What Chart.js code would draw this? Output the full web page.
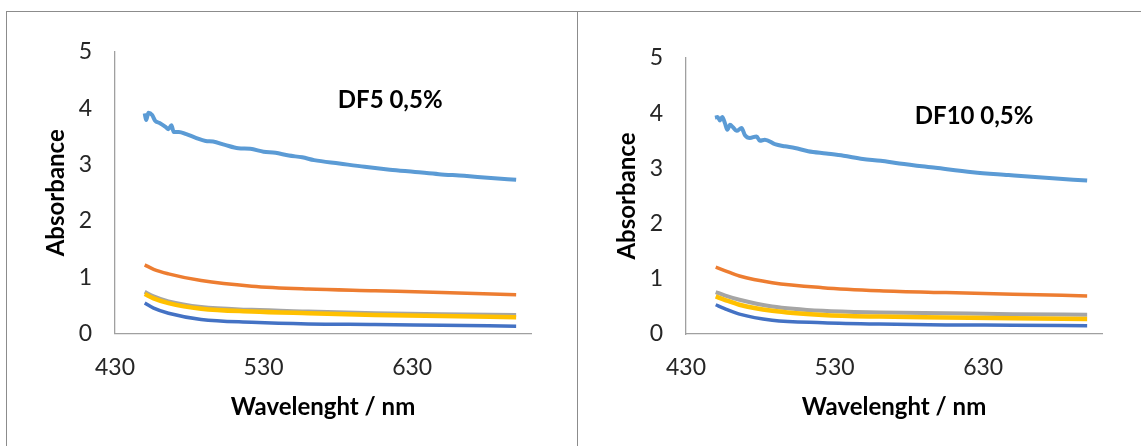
<!DOCTYPE html>
<html>
<head>
<meta charset="utf-8">
<script src="https://cdn.jsdelivr.net/npm/chart.js@4.4.1/dist/chart.umd.min.js"></script>
<style>
  html, body { margin: 0; padding: 0; background: #fff; width: 1141px; height: 446px; overflow: hidden; }
  .box { position: absolute; top: 11px; height: 440px; border-top: 1px solid #8c8c8c; border-left: 1px solid #8c8c8c; box-sizing: border-box; }
  #boxL { left: 6px; width: 571px; }
  #boxR { left: 577px; width: 600px; }
  canvas { position: absolute; top: 0; }
</style>
</head>
<body>
<div class="box" id="boxL"></div>
<div class="box" id="boxR"></div>
<canvas id="dfL" width="577" height="446" style="left:0"></canvas>
<canvas id="dfR" width="564" height="446" style="left:577px"></canvas>
<script>
/* wavelength grid (nm) for the smooth curves */
const wavelength = [450, 456, 466, 488, 522, 560, 605, 650, 700];

/* DF5 0,5% */
const df5Orange = [1.22, 1.14, 1.06, 0.94, 0.84, 0.79, 0.76, 0.73, 0.69];
const df5Gray   = [0.74, 0.66, 0.57, 0.47, 0.42, 0.39, 0.36, 0.34, 0.33];
const df5Yellow = [0.70, 0.625, 0.54, 0.44, 0.39, 0.36, 0.33, 0.31, 0.29];
const df5Blue   = [0.54, 0.45, 0.36, 0.25, 0.20, 0.17, 0.16, 0.145, 0.13];
const df5WlNoisy = [450, 451, 452.5, 455, 457, 460, 464, 466, 468, 469.5, 473, 478, 484, 491, 496, 504, 513, 521, 530, 538, 547, 556, 564, 581, 598, 615, 632, 648, 665, 683, 700];
const df5Noisy   = [3.91, 3.79, 3.92, 3.88, 3.78, 3.74, 3.67, 3.63, 3.70, 3.58, 3.58, 3.54, 3.48, 3.42, 3.41, 3.35, 3.29, 3.28, 3.23, 3.21, 3.16, 3.13, 3.08, 3.02, 2.96, 2.91, 2.87, 2.83, 2.80, 2.76, 2.73];

/* DF10 0,5% */
const df10Orange = [1.21, 1.15, 1.05, 0.93, 0.84, 0.785, 0.75, 0.72, 0.69];
const df10Gray   = [0.76, 0.70, 0.62, 0.50, 0.42, 0.39, 0.375, 0.36, 0.35];
const df10Yellow = [0.68, 0.62, 0.53, 0.42, 0.345, 0.315, 0.30, 0.285, 0.27];
const df10Blue   = [0.53, 0.46, 0.36, 0.25, 0.205, 0.18, 0.165, 0.16, 0.15];
const df10WlNoisy = [449.5, 451.3, 452.8, 454.4, 456.2, 457.8, 459.6, 461.8, 464.1, 467.4, 469.7, 473, 477.5, 479.7, 483.1, 489.8, 496.5, 503.3, 512.2, 524.4, 536, 549, 561, 573.6, 598, 622.9, 647, 672, 700];
const df10Noisy   = [3.92, 3.93, 3.87, 3.93, 3.82, 3.70, 3.79, 3.74, 3.68, 3.73, 3.60, 3.55, 3.58, 3.50, 3.52, 3.44, 3.40, 3.37, 3.31, 3.27, 3.23, 3.17, 3.14, 3.09, 3.01, 2.93, 2.88, 2.83, 2.78];

const xTicks = [430, 530, 630];
const yTicks = [0, 1, 2, 3, 4, 5];

const pts = (xs, ys) => xs.map((x, i) => ({ x: x, y: ys[i] }));

/* label written inside the plot area */
const insideLabel = {
  id: 'insideLabel',
  afterDatasetsDraw(chart, args, opts) {
    const { ctx, scales } = chart;
    ctx.save();
    ctx.font = 'bold 24px Lato';
    ctx.fillStyle = '#000';
    ctx.textAlign = 'left';
    ctx.textBaseline = 'middle';
    ctx.fillText(opts.text, scales.x.getPixelForValue(opts.x), scales.y.getPixelForValue(opts.y));
    ctx.restore();
  }
};

function makeChart(id, s, lay) {
  const line = (data, color, w) => ({
    data: data, borderColor: color, borderWidth: w, pointRadius: 0,
    fill: false, cubicInterpolationMode: 'monotone'
  });
  return new Chart(document.getElementById(id), {
    type: 'line',
    data: {
      datasets: [
        line(pts(s.wlNoisy, s.noisy), '#5B9BD5', 4),
        line(pts(wavelength, s.yellow), '#FFC000', 4.5),
        line(pts(wavelength, s.gray), '#A5A5A5', 4),
        line(pts(wavelength, s.orange), '#ED7D31', 3.5),
        line(pts(wavelength, s.blue), '#4472C4', 3.5)
      ]
    },
    options: {
      responsive: false,
      animation: false,
      layout: { padding: { left: 0, top: lay.top, right: lay.right, bottom: 0 } },
      plugins: {
        legend: { display: false },
        tooltip: { enabled: false },
        insideLabel: { text: s.title, x: s.titleX, y: s.titleY }
      },
      scales: {
        x: {
          type: 'linear', min: 430, max: 710,
          afterBuildTicks: (sc) => { sc.ticks = xTicks.map(v => ({ value: v })); },
          afterFit: (sc) => { sc.height = lay.xh; },
          grid: { display: false, drawTicks: false },
          border: { display: true, color: '#a0a0a0', width: 1.3 },
          ticks: { padding: 20, maxRotation: 0, color: '#262626', font: { family: 'Lato', size: 23 } },
          title: { display: true, text: 'Wavelenght / nm', color: '#000',
                   font: { family: 'Lato', size: 24, weight: 'bold' }, padding: { top: 0, bottom: 24.6 } }
        },
        y: {
          min: 0, max: 5,
          afterBuildTicks: (sc) => { sc.ticks = yTicks.map(v => ({ value: v })); },
          afterFit: (sc) => { sc.width = lay.yw; },
          grid: { display: false, drawTicks: false },
          border: { display: true, color: '#a0a0a0', width: 1.3 },
          ticks: { padding: 23, color: '#262626', font: { family: 'Lato', size: 23 } },
          title: { display: true, text: 'Absorbance', color: '#000',
                   font: { family: 'Lato', size: 24, weight: 'bold' }, padding: { top: lay.ytPad, bottom: 0 } }
        }
      }
    },
    plugins: [insideLabel]
  });
}

makeChart('dfL', {
  title: 'DF5 0,5%', titleX: 580, titleY: 4.15,
  wlNoisy: df5WlNoisy, noisy: df5Noisy,
  orange: df5Orange, gray: df5Gray, yellow: df5Yellow, blue: df5Blue
}, { top: 52, right: 46, xh: 112.5, yw: 115, ytPad: 42 });

makeChart('dfR', {
  title: 'DF10 0,5%', titleX: 584, titleY: 3.94,
  wlNoisy: df10WlNoisy, noisy: df10Noisy,
  orange: df10Orange, gray: df10Gray, yellow: df10Yellow, blue: df10Blue
}, { top: 58, right: 39, xh: 112, yw: 109, ytPad: 36 });
</script>
</body>
</html>
